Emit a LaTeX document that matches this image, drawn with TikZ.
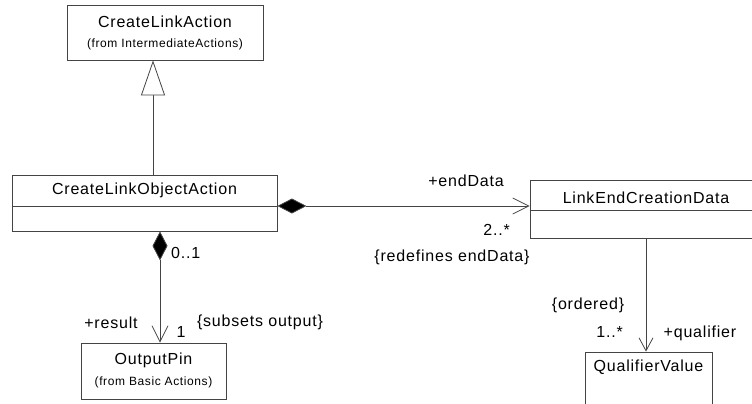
\documentclass[tikz,border=0pt]{standalone}
\usepackage{fontspec}
\setmainfont{Liberation Sans}
\newfontfamily\umlfont[LetterSpace=5]{Liberation Sans}
\usetikzlibrary{arrows.meta, positioning}
\definecolor{umlgray}{HTML}{444444}

\begin{document}
\begin{tikzpicture}[x=1pt, y=-1pt,
    classbox/.style={rectangle, draw=umlgray, fill=white, line width=0.8pt, inner sep=0pt},
    title/.style={font=\umlfont\fontsize{16}{19}\selectfont, inner sep=0pt},
    origin/.style={font=\umlfont\fontsize{12}{14}\selectfont, inner sep=0pt},
    tag/.style={font=\umlfont\fontsize{16}{19}\selectfont, inner sep=0pt},
    assoc/.style={draw=umlgray, line width=0.8pt},
    owned/.style={assoc, {Diamond[length=29pt, width=15pt, fill=black]}-{Straight Barb[length=16pt, width=16pt]}},
    navig/.style={assoc, -{Straight Barb[length=13pt, width=14pt]}},
    inherit/.style={assoc, -{Triangle[length=35pt, width=24pt, fill=white]}}
  ]
    \useasboundingbox (0,0) rectangle (752,404);
    \clip (0,0) rectangle (752,404);

    \node[classbox, minimum width=196, minimum height=55] (cla) at (165,32.5) {};
    \node[title] (clatitle) at ([yshift=-17pt]cla.north) {CreateLinkAction};
    \node[origin] (claorigin) at ([yshift=-40pt]cla.north) {(from IntermediateActions)};

    \node[classbox, minimum width=265, minimum height=56] (clo) at (144.5,203) {};
    \node[title] (clotitle) at ([yshift=-16pt]clo.north) {CreateLinkObjectAction};
    \draw[assoc] ([yshift=-32pt]clo.north west) -- ([yshift=-32pt]clo.north east);

    \node[classbox, minimum width=232, minimum height=58] (lecd) at (646,209) {};
    \node[title] (lecdtitle) at ([yshift=-18pt]lecd.north) {LinkEndCreationData};
    \draw[assoc] ([yshift=-31pt]lecd.north west) -- ([yshift=-31pt]lecd.north east);

    \node[classbox, minimum width=145, minimum height=56] (op) at (153.5,371) {};
    \node[title] (optitle) at ([yshift=-18pt]op.north) {OutputPin};
    \node[origin] (oporigin) at ([yshift=-40pt]op.north) {(from Basic Actions)};

    \node[classbox, minimum width=127, minimum height=70] (qv) at (648.5,387) {};
    \node[title] (qvtitle) at ([yshift=-16pt]qv.north) {QualifierValue};

    \draw[inherit] ([xshift=8.5pt]clo.north) -- ([xshift=-12pt]cla.south);
    \draw[owned] ([yshift=-3pt]clo.east) -- ([yshift=3pt]lecd.west);
    \draw[owned] ([xshift=15.5pt]clo.south) -- ([xshift=6.5pt]op.north);
    \draw[navig] (lecd.south) -- (lecd.south |- qv.north);

    \node[tag] (enddata) at (466,181) {+endData};
    \node[tag, anchor=east] (endmult) at (510,230) {2..*};
    \node[tag] (redef) at (452,257) {\{redefines endData\}};
    \node[tag, anchor=west] (resmult) at (171,253) {0..1};
    \node[tag] (result) at (111,323) {+result};
    \node[tag] (pinmult) at (181,332) {1};
    \node[tag] (subsets) at (260,322) {\{subsets output\}};
    \node[tag] (ordered) at (588,305) {\{ordered\}};
    \node[tag, anchor=east] (qualmult) at (623,332) {1..*};
    \node[tag] (qualifier) at (700,333) {+qualifier};
  \end{tikzpicture}
\end{document}
